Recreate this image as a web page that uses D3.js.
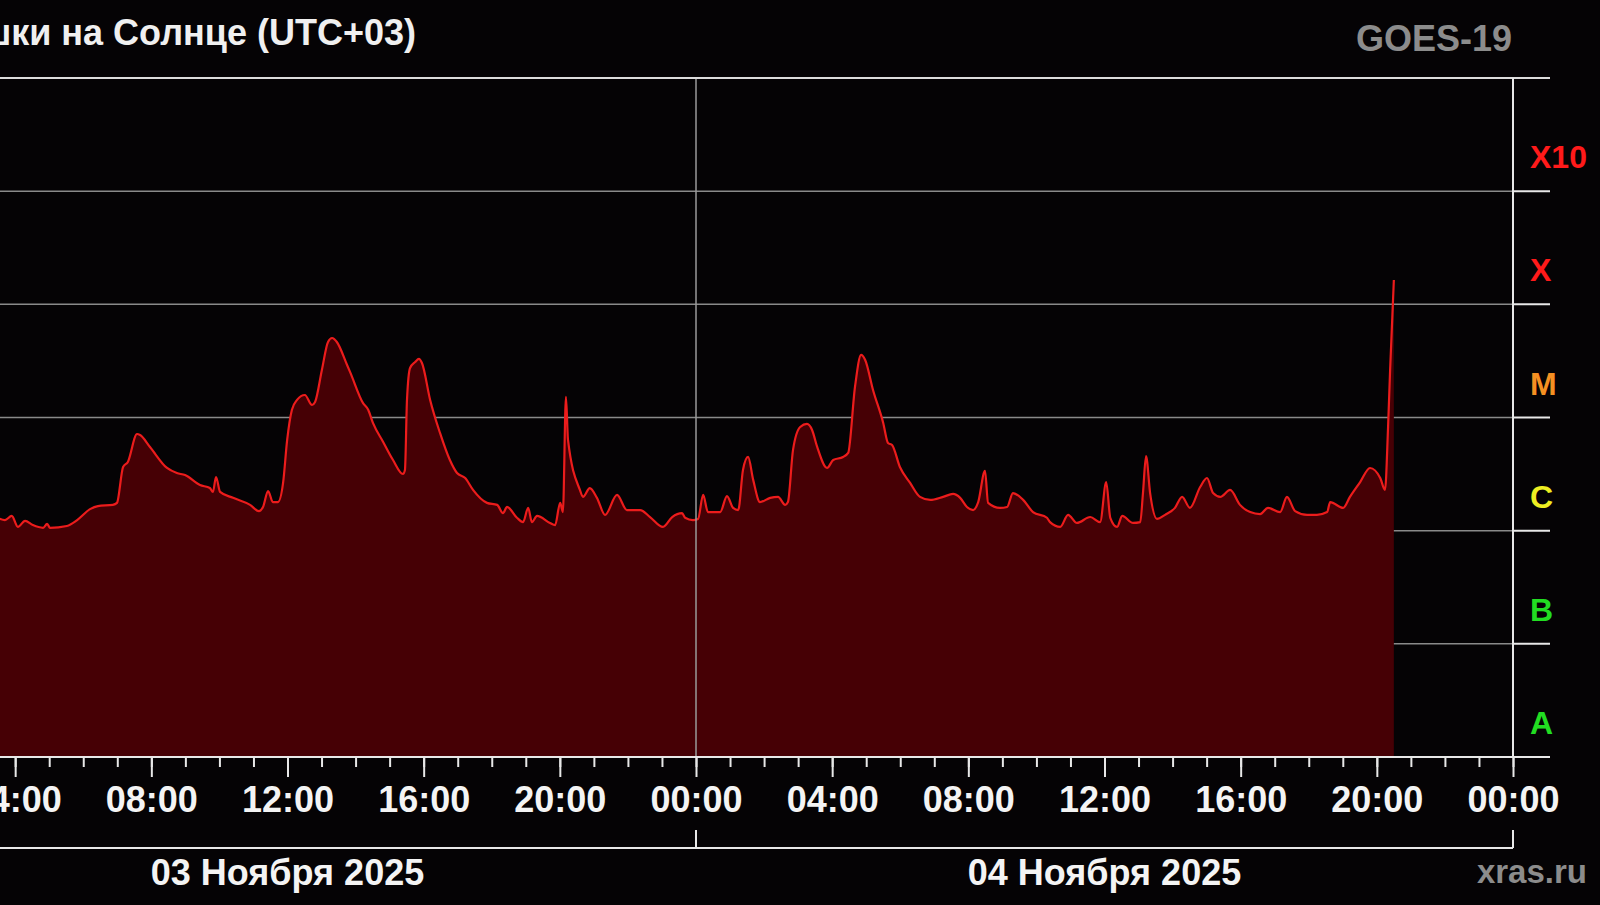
<!DOCTYPE html>
<html lang="ru">
<head>
<meta charset="UTF-8">
<title>Вспышки на Солнце (UTC+03)</title>
<style>
  body { margin: 0; background: #050305; }
  svg { display: block; font-family: 'Liberation Sans', Arial, sans-serif; font-weight: bold; }
</style>
<script src="https://cdn.jsdelivr.net/npm/d3@7"></script>
</head>
<body>
<script>
// GOES-19 X-ray flux, 1-8 A (hours since 03.11.2025 00:00, UTC+03)
var startDay = '2025-11-03T00:00';
var endDay = '2025-11-05T00:00';
var hours = [
  3.50, 3.70, 3.90, 4.08, 4.29, 4.52, 4.82, 4.94, 5.02, 5.52, 5.82, 6.20, 6.43, 6.87, 6.99,
  7.17, 7.31, 7.58, 7.67, 7.96, 8.46, 8.75, 8.99, 9.43, 9.72, 9.81, 9.90, 10.02, 10.40, 10.90,
  11.16, 11.28, 11.43, 11.57, 11.72, 11.87, 11.99, 12.13, 12.28, 12.51, 12.72, 12.81, 13.01, 13.19, 13.31,
  13.45, 13.75, 13.84, 14.22, 14.37, 14.51, 14.81, 15.10, 15.39, 15.45, 15.51, 15.60, 15.75, 15.86, 15.95,
  16.19, 16.48, 16.77, 16.98, 17.22, 17.45, 17.86, 18.16, 18.33, 18.45, 18.74, 18.92, 19.07, 19.18, 19.33,
  19.71, 19.86, 20.01, 20.09, 20.18, 20.24, 20.59, 20.68, 20.88, 21.09, 21.33, 21.68, 21.97, 22.36, 22.65,
  23.03, 23.30, 23.59, 23.68, 23.91, 24.06, 24.21, 24.35, 24.71, 24.91, 25.09, 25.24, 25.38, 25.53, 25.68,
  25.88, 26.18, 26.41, 26.62, 26.70, 26.85, 27.06, 27.26, 27.41, 27.56, 27.85, 28.03, 28.32, 28.47, 28.67,
  28.85, 28.97, 29.20, 29.50, 29.64, 29.76, 29.99, 30.29, 30.58, 30.88, 31.26, 31.55, 31.76, 31.96, 32.14,
  32.29, 32.49, 32.58, 32.93, 33.14, 33.31, 33.61, 33.90, 34.31, 34.40, 34.70, 34.93, 35.19, 35.58, 35.87,
  36.05, 36.17, 36.37, 36.52, 36.84, 37.05, 37.13, 37.22, 37.34, 37.54, 37.78, 38.07, 38.28, 38.51, 38.81,
  39.01, 39.19, 39.40, 39.69, 39.98, 40.28, 40.57, 40.80, 41.16, 41.36, 41.60, 41.95, 42.24, 42.54, 42.63,
  43.01, 43.21, 43.51, 43.80, 44.10, 44.24, 44.33, 44.39, 44.50
];
var flux = [
  1.29e-6, 1.24e-6, 1.35e-6, 1.08e-6, 1.22e-6, 1.12e-6, 1.06e-6, 1.15e-6, 1.06e-6, 1.10e-6, 1.24e-6, 1.55e-6, 1.65e-6, 1.69e-6, 1.76e-6,
  3.65e-6, 4.05e-6, 7.15e-6, 7.00e-6, 5.49e-6, 3.58e-6, 3.23e-6, 3.10e-6, 2.53e-6, 2.38e-6, 2.20e-6, 2.98e-6, 2.20e-6, 1.95e-6, 1.69e-6,
  1.49e-6, 1.62e-6, 2.24e-6, 1.79e-6, 1.79e-6, 2.64e-6, 6.33e-6, 1.17e-5, 1.43e-5, 1.58e-5, 1.29e-5, 1.37e-5, 2.63e-5, 4.65e-5, 5.04e-5,
  4.65e-5, 2.91e-5, 2.52e-5, 1.34e-5, 1.17e-5, 8.95e-6, 6.08e-6, 4.21e-6, 3.17e-6, 3.44e-6, 1.43e-5, 2.74e-5, 3.09e-5, 3.29e-5, 3.03e-5,
  1.43e-5, 7.30e-6, 4.21e-6, 3.23e-6, 2.92e-6, 2.29e-6, 1.76e-6, 1.69e-6, 1.43e-6, 1.62e-6, 1.30e-6, 1.19e-6, 1.59e-6, 1.19e-6, 1.35e-6,
  1.17e-6, 1.12e-6, 1.76e-6, 1.46e-6, 1.52e-5, 6.33e-6, 2.29e-6, 1.99e-6, 2.38e-6, 1.95e-6, 1.38e-6, 2.07e-6, 1.52e-6, 1.52e-6, 1.32e-6,
  1.08e-6, 1.32e-6, 1.43e-6, 1.30e-6, 1.24e-6, 1.27e-6, 2.07e-6, 1.46e-6, 1.46e-6, 2.02e-6, 1.59e-6, 1.52e-6, 3.44e-6, 4.48e-6, 2.81e-6,
  1.79e-6, 1.95e-6, 1.99e-6, 1.69e-6, 1.79e-6, 5.17e-6, 8.25e-6, 8.77e-6, 7.76e-6, 5.49e-6, 3.58e-6, 4.21e-6, 4.48e-6, 4.86e-6, 1.86e-5,
  3.57e-5, 3.22e-5, 1.75e-5, 8.95e-6, 5.96e-6, 5.72e-6, 3.65e-6, 2.64e-6, 1.99e-6, 1.87e-6, 1.99e-6, 2.11e-6, 1.95e-6, 1.62e-6, 1.52e-6,
  1.79e-6, 3.37e-6, 1.76e-6, 1.59e-6, 1.62e-6, 2.15e-6, 1.87e-6, 1.46e-6, 1.30e-6, 1.19e-6, 1.08e-6, 1.38e-6, 1.17e-6, 1.32e-6, 1.19e-6,
  2.69e-6, 1.30e-6, 1.08e-6, 1.35e-6, 1.17e-6, 1.19e-6, 2.15e-6, 4.57e-6, 2.15e-6, 1.27e-6, 1.38e-6, 1.59e-6, 1.99e-6, 1.59e-6, 2.43e-6,
  2.92e-6, 2.15e-6, 1.99e-6, 2.29e-6, 1.69e-6, 1.46e-6, 1.40e-6, 1.59e-6, 1.46e-6, 1.99e-6, 1.49e-6, 1.38e-6, 1.38e-6, 1.46e-6, 1.79e-6,
  1.59e-6, 1.99e-6, 2.69e-6, 3.58e-6, 2.92e-6, 2.29e-6, 8.25e-6, 2.63e-5, 1.64e-4
];

// flare classes on the right
var classNames = ['A', 'B', 'C', 'M', 'X', 'X10'];
var classLevels = [1e-8, 1e-7, 1e-6, 1e-5, 1e-4, 1e-3];
var classColors = ['#22dd22', '#22dd22', '#eeee22', '#f59022', '#ff1a1a', '#ff1a1a'];

var dayNames = ['03 Ноября 2025', '04 Ноября 2025'];
var titleText = 'Вспышки на Солнце (UTC+03)';
var satText = 'GOES-19';
var siteText = 'xras.ru';

var W = 1600, H = 905;
var plotTop = 78, plotBottom = 757, axisX = 1513, tickEnd = 1550;

var parseT = d3.utcParse('%Y-%m-%dT%H:%M');
var t0 = parseT(startDay), t1 = parseT(endDay);

var data = hours.map(function (h, i) {
  return { t: new Date(t0.getTime() + h * 3600e3), v: flux[i] };
});

var svg = d3.select('body').append('svg').attr('width', W).attr('height', H);
svg.append('rect').attr('width', W).attr('height', H).attr('fill', '#050305');

// the left part of the 2-day window is cut off in the picture
var x = d3.scaleUtc().domain([t0, t1]).range([-121, axisX]);
var y = d3.scaleLog().domain([1e-8, 1e-2]).range([plotBottom, plotTop]);

// horizontal class lines (behind the curve)
var grid = svg.append('g');
grid.selectAll('line.grid')
  .data(classLevels.slice(1))
  .enter().append('line')
  .attr('x1', 0).attr('x2', axisX)
  .attr('y1', function (d) { return y(d); })
  .attr('y2', function (d) { return y(d); })
  .attr('stroke', '#8a8a8a').attr('stroke-width', 1.5);
grid.selectAll('line.rtick')
  .data(classLevels.slice(1))
  .enter().append('line')
  .attr('x1', axisX).attr('x2', tickEnd)
  .attr('y1', function (d) { return y(d); })
  .attr('y2', function (d) { return y(d); })
  .attr('stroke', '#e8e8e8').attr('stroke-width', 2);

// flux area and line
var area = d3.area()
  .curve(d3.curveMonotoneX)
  .x(function (d) { return x(d.t); })
  .y0(plotBottom)
  .y1(function (d) { return y(d.v); });
var line = d3.line()
  .curve(d3.curveMonotoneX)
  .x(function (d) { return x(d.t); })
  .y(function (d) { return y(d.v); });

svg.append('path').datum(data).attr('d', area).attr('fill', '#460005');
svg.append('path').datum(data).attr('d', line)
  .attr('fill', 'none').attr('stroke', '#ec1c1c').attr('stroke-width', 2.2)
  .attr('stroke-linejoin', 'round');

// midnight separator
var mid = d3.utcDay.range(d3.utcDay.offset(t0, 1), t1);
svg.selectAll('line.mid')
  .data(mid)
  .enter().append('line')
  .attr('x1', function (d) { return x(d); }).attr('x2', function (d) { return x(d); })
  .attr('y1', plotTop).attr('y2', plotBottom)
  .attr('stroke', '#9a9a9a').attr('stroke-width', 1.5);

// frame: top, right, bottom
svg.append('line').attr('x1', 0).attr('x2', tickEnd).attr('y1', plotTop).attr('y2', plotTop)
  .attr('stroke', '#dcdcdc').attr('stroke-width', 2);
svg.append('line').attr('x1', axisX).attr('x2', axisX).attr('y1', plotTop).attr('y2', plotBottom)
  .attr('stroke', '#e8e8e8').attr('stroke-width', 2);
svg.append('line').attr('x1', 0).attr('x2', tickEnd).attr('y1', plotBottom).attr('y2', plotBottom)
  .attr('stroke', '#e8e8e8').attr('stroke-width', 2);

// time axis: hourly minor ticks, 4-hour major ticks with labels
var minorAxis = svg.append('g')
  .attr('transform', 'translate(0,' + plotBottom + ')')
  .call(d3.axisBottom(x).ticks(d3.utcHour.every(1)).tickSize(10).tickFormat(''));
minorAxis.select('.domain').remove();
minorAxis.selectAll('line').attr('stroke', '#e8e8e8').attr('stroke-width', 2);

var majorAxis = svg.append('g')
  .attr('transform', 'translate(0,' + plotBottom + ')')
  .call(d3.axisBottom(x).ticks(d3.utcHour.every(4)).tickSize(20).tickFormat(d3.utcFormat('%H:%M')));
majorAxis.select('.domain').remove();
majorAxis.selectAll('line').attr('stroke', '#e8e8e8').attr('stroke-width', 2);
majorAxis.selectAll('text')
  .attr('y', 55).attr('dy', 0)
  .attr('fill', '#f4f4f4')
  .style('font-size', '36px').style('font-weight', 'bold')
  .style('font-family', "'Liberation Sans', Arial, sans-serif");

// date bracket
var bracketY = 848;
svg.append('line').attr('x1', 0).attr('x2', axisX).attr('y1', bracketY).attr('y2', bracketY)
  .attr('stroke', '#e8e8e8').attr('stroke-width', 2);
svg.selectAll('line.day')
  .data(d3.utcDay.range(d3.utcDay.offset(t0, 1), d3.utcDay.offset(t1, 1)))
  .enter().append('line')
  .attr('x1', function (d) { return x(d); }).attr('x2', function (d) { return x(d); })
  .attr('y1', bracketY - 18).attr('y2', bracketY)
  .attr('stroke', '#e8e8e8').attr('stroke-width', 2);
svg.selectAll('text.day')
  .data(dayNames)
  .enter().append('text')
  .attr('x', function (d, i) { return x(d3.utcHour.offset(d3.utcDay.offset(t0, i), 12)); })
  .attr('y', 885)
  .attr('text-anchor', 'middle')
  .attr('fill', '#f4f4f4')
  .style('font-size', '36px')
  .text(function (d) { return d; });

// class labels
svg.selectAll('text.cls')
  .data(classNames)
  .enter().append('text')
  .attr('x', 1530)
  .attr('y', function (d, i) { return y(classLevels[i]) - 23; })
  .attr('fill', function (d, i) { return classColors[i]; })
  .style('font-size', '32px')
  .text(function (d) { return d; });

// titles
svg.append('text').attr('x', 416).attr('y', 45).attr('text-anchor', 'end')
  .attr('fill', '#f0f0f0').style('font-size', '36px').text(titleText);
svg.append('text').attr('x', 1512).attr('y', 51).attr('text-anchor', 'end')
  .attr('fill', '#8c8c8c').style('font-size', '36px').text(satText);
svg.append('text').attr('x', 1587).attr('y', 883).attr('text-anchor', 'end')
  .attr('fill', '#8c8c8c').style('font-size', '33px').text(siteText);
</script>
</body>
</html>
